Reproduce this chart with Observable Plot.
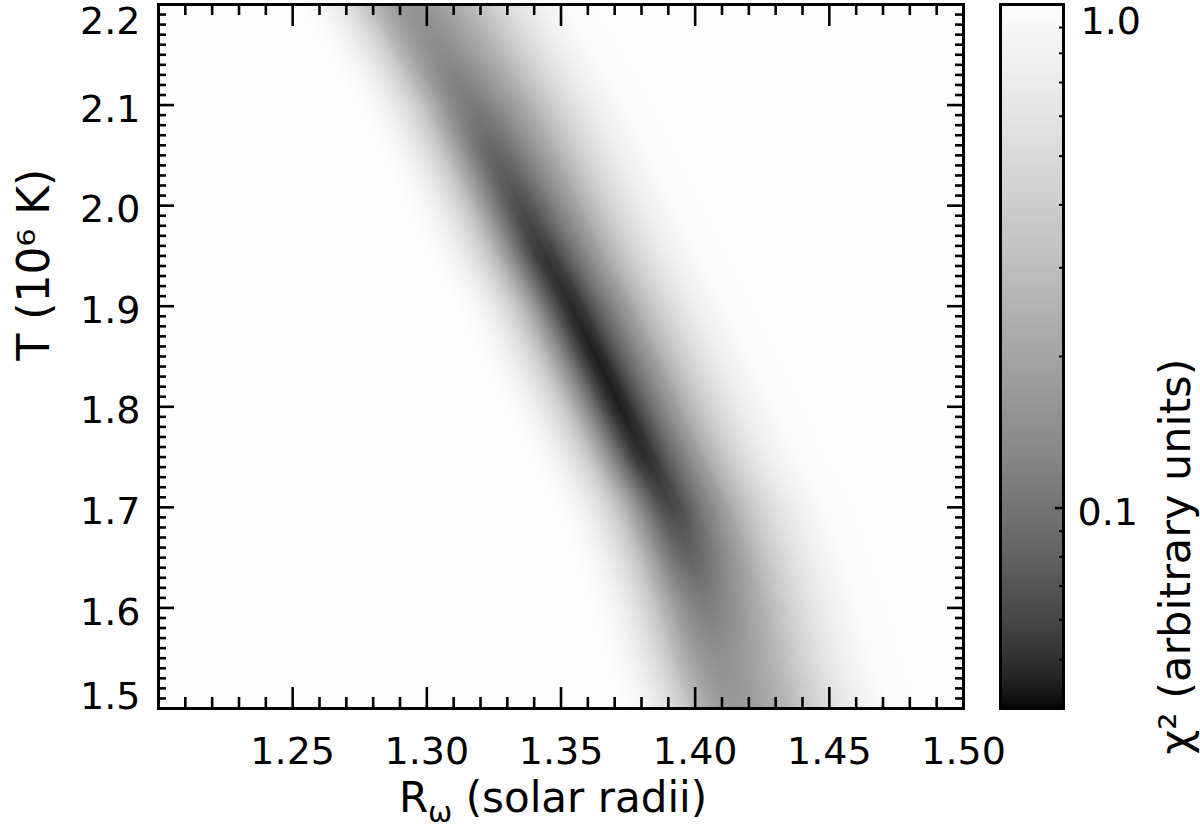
<!DOCTYPE html>
<html><head><meta charset="utf-8">
<script src="https://cdn.jsdelivr.net/npm/d3@7"></script>
<script src="https://cdn.jsdelivr.net/npm/@observablehq/plot@0.6"></script>
<style>
html,body{margin:0;padding:0;background:#fff;}
#chart{position:relative;width:1200px;height:834px;background:#fff;}
#chart svg{position:absolute;left:0;top:0;}
</style></head><body><div id="chart"></div>
<script>
// ---- data ----
// temperature rows (10^6 K), top to bottom
const T_rows = [2.20, 2.15, 2.10, 2.05, 2.00, 1.95, 1.90, 1.85, 1.80, 1.75, 1.70, 1.65, 1.60, 1.55, 1.50];
// R (solar radii) of the chi^2 valley centre in each row
const centreR = [1.295, 1.306, 1.317, 1.326, 1.335, 1.344, 1.354, 1.363, 1.372, 1.381, 1.391, 1.398, 1.404, 1.409, 1.415];
// offsets in R from the valley centre at which chi^2 was read
const offsets = [-0.042, -0.034, -0.028, -0.022, -0.016, -0.011, -0.007, -0.0035, 0, 0.004, 0.009, 0.015, 0.021, 0.028, 0.035, 0.042, 0.050, 0.058, 0.066, 0.074];
// chi^2 (arbitrary units) per row, at those offsets
const chi2 = [
  [1, 0.856, 0.654, 0.459, 0.290, 0.211, 0.176, 0.160, 0.155, 0.160, 0.180, 0.218, 0.273, 0.383, 0.527, 0.687, 0.848, 0.949, 0.992, 1],
  [1, 0.853, 0.646, 0.447, 0.274, 0.193, 0.158, 0.141, 0.136, 0.141, 0.162, 0.201, 0.257, 0.369, 0.516, 0.680, 0.844, 0.948, 0.991, 1],
  [1, 0.848, 0.634, 0.429, 0.251, 0.167, 0.130, 0.113, 0.108, 0.113, 0.134, 0.175, 0.233, 0.349, 0.501, 0.670, 0.839, 0.946, 0.991, 1],
  [1, 0.844, 0.624, 0.412, 0.229, 0.143, 0.105, 0.087, 0.082, 0.087, 0.109, 0.151, 0.211, 0.330, 0.486, 0.661, 0.835, 0.945, 0.991, 1],
  [1, 0.841, 0.617, 0.401, 0.214, 0.126, 0.088, 0.070, 0.064, 0.070, 0.092, 0.134, 0.195, 0.316, 0.476, 0.654, 0.831, 0.943, 0.991, 1],
  [1, 0.839, 0.612, 0.394, 0.204, 0.115, 0.075, 0.057, 0.052, 0.057, 0.080, 0.123, 0.185, 0.308, 0.469, 0.650, 0.829, 0.943, 0.991, 1],
  [1, 0.838, 0.609, 0.390, 0.199, 0.110, 0.071, 0.053, 0.047, 0.053, 0.076, 0.118, 0.180, 0.304, 0.466, 0.647, 0.828, 0.943, 0.990, 1],
  [1, 0.838, 0.608, 0.388, 0.197, 0.107, 0.068, 0.050, 0.0443, 0.050, 0.073, 0.116, 0.178, 0.302, 0.465, 0.646, 0.828, 0.943, 0.990, 1],
  [1, 0.838, 0.608, 0.388, 0.197, 0.107, 0.067, 0.050, 0.044, 0.050, 0.073, 0.116, 0.178, 0.302, 0.464, 0.646, 0.828, 0.942, 0.990, 1],
  [1, 0.838, 0.610, 0.391, 0.201, 0.111, 0.072, 0.054, 0.0486, 0.054, 0.077, 0.120, 0.182, 0.305, 0.467, 0.648, 0.829, 0.943, 0.990, 1],
  [1, 0.840, 0.615, 0.399, 0.211, 0.123, 0.084, 0.066, 0.0608, 0.066, 0.089, 0.131, 0.192, 0.314, 0.474, 0.652, 0.831, 0.944, 0.991, 1],
  [1, 0.844, 0.623, 0.412, 0.229, 0.142, 0.105, 0.087, 0.0815, 0.087, 0.109, 0.150, 0.210, 0.329, 0.486, 0.660, 0.835, 0.945, 0.991, 1],
  [1, 0.850, 0.637, 0.434, 0.257, 0.173, 0.137, 0.120, 0.115, 0.120, 0.142, 0.181, 0.239, 0.354, 0.504, 0.673, 0.841, 0.947, 0.991, 1],
  [1, 0.855, 0.650, 0.453, 0.283, 0.202, 0.167, 0.151, 0.146, 0.151, 0.172, 0.210, 0.266, 0.377, 0.522, 0.684, 0.846, 0.949, 0.991, 1],
  [1, 0.859, 0.659, 0.468, 0.302, 0.224, 0.190, 0.174, 0.169, 0.174, 0.194, 0.231, 0.285, 0.393, 0.535, 0.693, 0.850, 0.950, 0.992, 1]
];
// tick labels
const xTickLabels = [1.25, 1.30, 1.35, 1.40, 1.45, 1.50];
const yTickLabels = [1.6, 1.7, 1.8, 1.9, 2.0, 2.1];
const yTopLabel = [2.2], yBottomLabel = [1.5];
const cbarLabels = [1.0, 0.1];
const cbarMinor = [0.05, 0.06, 0.07, 0.08, 0.09, 0.2, 0.3, 0.4, 0.5, 0.6, 0.7, 0.8, 0.9];

// ---- lookup of the read table (linear along the valley) ----
function rowValue(i, e) {
  const n = offsets.length;
  if (e <= offsets[0] || e >= offsets[n - 1]) return 1;
  let k = 0;
  while (e > offsets[k + 1]) k++;
  const t = (e - offsets[k]) / (offsets[k + 1] - offsets[k]);
  return chi2[i][k] * (1 - t) + chi2[i][k + 1] * t;
}
function chi2At(R, T) {
  let i = 0;
  while (i < T_rows.length - 2 && T < T_rows[i + 1]) i++;
  let f = (T_rows[i] - T) / (T_rows[i] - T_rows[i + 1]);
  f = Math.max(0, Math.min(1, f));
  const c = centreR[i] + f * (centreR[i + 1] - centreR[i]);
  const e = R - c;
  return (1 - f) * rowValue(i, e) + f * rowValue(i + 1, e);
}

// ---- layout ----
const W = 1200, H = 834;
const ML = 158, MR = 237, MT = 4, MB = 126;
const FW = W - ML - MR, FH = H - MT - MB;
const FONT = "DejaVu Sans";
// grey ramp of the reference colour table (lighter mid-tones)
const greyRamp = t => {
  const g = Math.round(253 * Math.pow(Math.max(0, Math.min(1, t)), 0.62));
  return `rgb(${g},${g},${g})`;
};
const colorOpts = {type: "log", domain: [0.04, 1], interpolate: greyRamp, clamp: true};

const xMinor = d3.range(121, 150).filter(i => i % 5).map(i => i / 100);
const xMajor = [1.25, 1.30, 1.35, 1.40, 1.45];
const yMinor = d3.range(151, 220).filter(i => i % 10).map(i => i / 100);
const yMajor = [1.6, 1.7, 1.8, 1.9, 2.0, 2.1];
const tk = {stroke: "black", strokeWidth: 2.6};

const main = Plot.plot({
  width: W, height: H,
  marginLeft: ML, marginRight: MR, marginTop: MT, marginBottom: MB,
  style: {fontFamily: FONT, fontSize: "38px", background: "transparent", color: "black"},
  x: {domain: [1.2, 1.5]},
  y: {domain: [1.5, 2.2]},
  color: colorOpts,
  marks: [
    Plot.raster({fill: chi2At, x1: 1.2, x2: 1.5, y1: 1.5, y2: 2.2, pixelSize: 1}),
    // bottom / top ticks (inward)
    Plot.ruleX(xMinor, {...tk, insetTop: FH - 11}),
    Plot.ruleX(xMajor, {...tk, insetTop: FH - 21}),
    Plot.ruleX(xMinor, {...tk, insetBottom: FH - 11}),
    Plot.ruleX(xMajor, {...tk, insetBottom: FH - 22}),
    // left / right ticks (inward)
    Plot.ruleY(yMinor, {...tk, insetRight: FW - 8}),
    Plot.ruleY(yMajor, {...tk, insetRight: FW - 16}),
    Plot.ruleY(yMinor, {...tk, insetLeft: FW - 8}),
    Plot.ruleY(yMajor, {...tk, insetLeft: FW - 16}),
    Plot.frame({stroke: "black", strokeWidth: 3}),
    Plot.axisX({ticks: xTickLabels, tickSize: 0, tickPadding: 29, tickFormat: d3.format(".2f"), label: null}),
    Plot.axisY({ticks: yTickLabels, tickSize: 0, tickPadding: 18, dy: 4.5, tickFormat: d3.format(".1f"), label: null}),
    Plot.axisY({ticks: yTopLabel, tickSize: 0, tickPadding: 18, dy: 17.5, tickFormat: d3.format(".1f"), label: null}),
    Plot.axisY({ticks: yBottomLabel, tickSize: 0, tickPadding: 18, dy: -12, tickFormat: d3.format(".1f"), label: null}),
    Plot.text(["Rω (solar radii)"], {frameAnchor: "bottom", dy: 103, dx: -8, text: d => d, fontSize: 42}),
    Plot.text(["T (10⁶ K)"], {frameAnchor: "left", dx: -124, dy: 4, rotate: -90, text: d => d, fontSize: 44})
  ]
});

// colour bar
const cbEdges = d3.range(0, 401).map(i => 0.04 * Math.pow(25, i / 400));
const cbCells = d3.pairs(cbEdges).map(([lo, hi]) => ({lo, hi, mid: Math.sqrt(lo * hi)}));
const CBL = 1000, CBR = 1063;
const CBW = CBR - CBL;
const cbar = Plot.plot({
  width: W, height: H,
  marginLeft: CBL, marginRight: W - CBR, marginTop: MT, marginBottom: MB,
  style: {fontFamily: FONT, fontSize: "38px", background: "transparent", color: "black"},
  x: {domain: [0, 1], axis: null},
  y: {type: "log", domain: [0.04, 1], axis: null},
  color: colorOpts,
  marks: [
    Plot.rect(cbCells, {x1: 0, x2: 1, y1: "lo", y2: "hi", fill: "mid", shapeRendering: "crispEdges"}),
    Plot.ruleY(cbarMinor, {stroke: "black", strokeWidth: 2, insetLeft: CBW - 4}),
    Plot.ruleY([0.1], {stroke: "black", strokeWidth: 2.6, insetLeft: CBW - 8}),
    Plot.frame({stroke: "black", strokeWidth: 3}),
    Plot.text([cbarLabels[0]], {y: d => d, text: d => d3.format(".1f")(d), frameAnchor: "right", dx: 17, dy: 17.5, textAnchor: "start"}),
    Plot.text([cbarLabels[1]], {y: d => d, text: d => d3.format(".1f")(d), frameAnchor: "right", dx: 14, dy: 5, textAnchor: "start"}),
    Plot.text(["χ² (arbitrary units)"], {frameAnchor: "right", dx: 113, dy: 2, rotate: -90, text: d => d, fontSize: 43})
  ]
});

const box = document.getElementById("chart");
box.appendChild(main);
box.appendChild(cbar);

// subscript omega in the x title
d3.select(main).selectAll("text").filter(function () { return this.textContent === "Rω (solar radii)"; })
  .each(function () {
    const t = d3.select(this);
    t.text(null).attr("xml:space", "preserve");
    t.append("tspan").text("R");
    t.append("tspan").attr("font-size", 29).attr("dy", 10).text("ω");
    t.append("tspan").attr("dy", -10).text(" (solar radii)");
  });
</script></body></html>
